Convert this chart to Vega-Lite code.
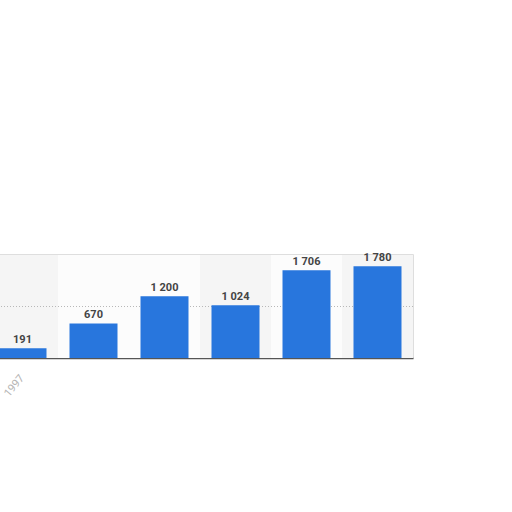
{
  "$schema": "https://vega.github.io/schema/vega-lite/v6.json",
  "width": 426,
  "height": 103,
  "autosize": {"type": "none"},
  "padding": {"left": -13, "top": 255, "right": 99, "bottom": 154},
  "background": "#ffffff",
  "config": {
    "locale": {
      "number": {"decimal": ".", "thousands": " ", "grouping": [3], "currency": ["", ""]}
    },
    "view": {"stroke": "#d4d4d4", "strokeWidth": 1.5},
    "font": "Roboto"
  },
  "data": {
    "values": [
      {"year": "1997", "value": 191},
      {"year": "1998", "value": 670},
      {"year": "1999", "value": 1200},
      {"year": "2000", "value": 1024},
      {"year": "2001", "value": 1706},
      {"year": "2002", "value": 1780}
    ]
  },
  "layer": [
    {
      "mark": {"type": "bar", "width": {"band": 1.479}},
      "encoding": {
        "x": {
          "field": "year",
          "type": "ordinal",
          "scale": {"paddingInner": 0.324, "paddingOuter": 0.162},
          "axis": {
            "title": null,
            "ticks": false,
            "domainColor": "#555555",
            "domainWidth": 1.5,
            "labelAngle": -50,
            "labelColor": "#b5b5b5",
            "labelFontSize": 11,
            "labelPadding": 18,
            "labelExpr": "datum.value == '1997' ? datum.label : ''"
          }
        },
        "y": {
          "datum": 2000,
          "type": "quantitative",
          "scale": {"domain": [0, 2000], "nice": false},
          "axis": null
        },
        "y2": {"datum": 0},
        "color": {
          "condition": {
            "test": "datum.year == '1997' || datum.year == '2000' || datum.year == '2002'",
            "value": "#f5f5f5"
          },
          "value": "#fcfcfc"
        }
      }
    },
    {
      "mark": {"type": "rule", "color": "#b8b8b8", "strokeDash": [1, 2], "strokeWidth": 1},
      "encoding": {
        "y": {"datum": 1000, "type": "quantitative"}
      }
    },
    {
      "mark": {"type": "bar", "color": "#2876dd"},
      "encoding": {
        "x": {"field": "year", "type": "ordinal"},
        "y": {"field": "value", "type": "quantitative"}
      }
    },
    {
      "mark": {
        "type": "text",
        "baseline": "bottom",
        "dy": -3,
        "fontSize": 11,
        "fontWeight": "bold",
        "color": "#444444"
      },
      "encoding": {
        "x": {"field": "year", "type": "ordinal"},
        "y": {"field": "value", "type": "quantitative"},
        "text": {"field": "value", "type": "quantitative", "format": ",d"}
      }
    }
  ]
}
